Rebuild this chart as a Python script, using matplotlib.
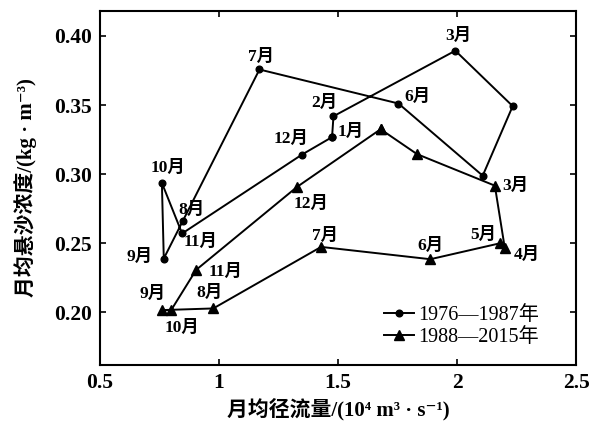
import matplotlib
matplotlib.use("Agg")
import matplotlib.pyplot as plt

plt.rcParams['font.family'] = ['Liberation Serif', 'Noto Sans CJK SC', 'DejaVu Serif', 'DejaVu Sans']

# Data
months = ['1月', '2月', '3月', '4月', '5月', '6月', '7月', '8月', '9月', '10月', '11月', '12月']

q_7687 = [1.475, 1.481, 1.993, 2.234, 2.108, 1.754, 1.170, 0.848, 0.768, 0.760, 0.845, 1.349]
c_7687 = [0.3268, 0.3419, 0.3893, 0.3492, 0.2989, 0.3511, 0.3757, 0.2662, 0.2390, 0.2937, 0.2571, 0.3142]

q_8815 = [1.679, 1.832, 2.159, 2.201, 2.180, 1.888, 1.429, 0.976, 0.760, 0.799, 0.904, 1.328]
c_8815 = [0.3325, 0.3145, 0.2917, 0.2464, 0.2500, 0.2385, 0.2474, 0.2029, 0.2017, 0.2017, 0.2308, 0.2908]

legend_labels = ['1976—1987年', '1988—2015年']
x_ticks = [0.5, 1, 1.5, 2, 2.5]
x_ticklabels = ['0.5', '1', '1.5', '2', '2.5']
y_ticks = [0.20, 0.25, 0.30, 0.35, 0.40]
y_ticklabels = ['0.20', '0.25', '0.30', '0.35', '0.40']

# label offsets (points) for visible month labels
off_7687 = {0: (13.5, 3.5), 1: (-6.5, 9.5), 2: (2, 11), 5: (14, 4.5), 6: (1, 9),
            7: (6.5, 8), 8: (-17.5, 1), 9: (4.5, 10.5), 10: (13, -6), 11: (-8, 11.5)}
off_8815 = {2: (14.5, 0), 3: (16, -4.5), 4: (-12, 6), 5: (0, 9.6), 6: (2.5, 8),
            7: (-3, 11.5), 8: (-7, 11.5), 9: (8, -12.5), 10: (21.5, -1.5), 11: (10, -12)}

serif_cjk = ['Liberation Serif', 'Noto Sans CJK SC', 'DejaVu Serif']

fig = plt.figure(figsize=(5.9, 4.22), dpi=100)
ax = fig.add_axes([100 / 590, 1 - 365 / 422, 476 / 590, 354 / 422])

def closed(v):
    return list(v) + [v[0]]

ax.plot(closed(q_7687), closed(c_7687), color='black', lw=1.4, marker='o', ms=4.8,
        label=legend_labels[0], zorder=3)
ax.plot(closed(q_8815), closed(c_8815), color='black', lw=1.4, marker='^', ms=7.5,
        label=legend_labels[1], zorder=3)

lab_font = dict(fontsize=12.5, family=serif_cjk, fontweight='bold')
for i, (dx, dy) in off_7687.items():
    ax.annotate(months[i], (q_7687[i], c_7687[i]), xytext=(dx, dy), textcoords='offset points',
                ha='center', va='center', **lab_font)
for i, (dx, dy) in off_8815.items():
    ax.annotate(months[i], (q_8815[i], c_8815[i]), xytext=(dx, dy), textcoords='offset points',
                ha='center', va='center', **lab_font)

ax.set_xlim(0.5, 2.5)
ax.set_ylim(0.162, 0.418)
ax.set_xticks(x_ticks)
ax.set_xticklabels(x_ticklabels)
ax.set_yticks(y_ticks)
ax.set_yticklabels(y_ticklabels)
ax.tick_params(direction='in', top=True, right=True, length=4, width=1.2,
               labelsize=15.5, pad=6)
for lab in ax.get_xticklabels() + ax.get_yticklabels():
    lab.set_fontweight('bold')
for s in ax.spines.values():
    s.set_linewidth(1.5)

ax.set_xlabel('月均径流量/(10⁴ m³ · s⁻¹)', fontsize=15, fontweight='bold',
              family=serif_cjk, labelpad=3)
ax.set_ylabel('月均悬沙浓度/(kg · m⁻³)', fontsize=15, fontweight='bold',
              family=serif_cjk, labelpad=12)

leg = ax.legend(loc='center left', bbox_to_anchor=(0.597, 0.109), frameon=False,
                borderpad=0, borderaxespad=0, handlelength=1.5, handletextpad=0.2,
                labelspacing=0.15, prop={'size': 14.5, 'family': serif_cjk})

fig.savefig('out.png', dpi=100)
